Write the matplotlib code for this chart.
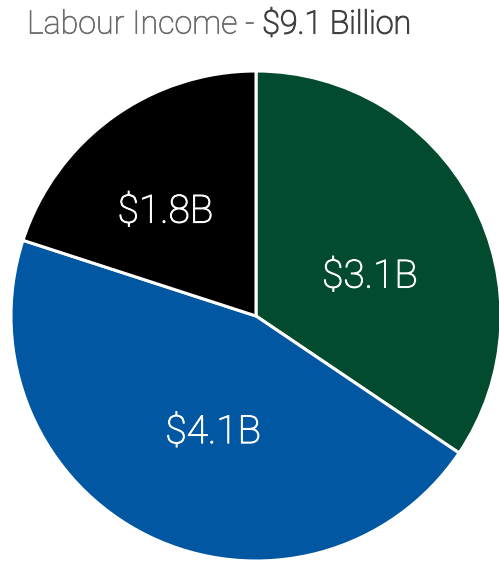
import matplotlib
matplotlib.use("Agg")
import matplotlib.pyplot as plt
import matplotlib.patheffects as pe

# Labour income split (billions of dollars)
segments = ["Direct", "Indirect", "Induced"]
values = [3.1, 4.1, 1.8]
labels = ["$3.1B", "$4.1B", "$1.8B"]
colors = ["#024b2e", "#0157a2", "#000000"]
total = 9.1

# label anchor points inside each wedge (axes data units)
label_pos = [(0.465, 0.16), (-0.175, -0.475), (-0.37, 0.425)]

plt.rcParams["font.family"] = ["Roboto", "DejaVu Sans"]

fig = plt.figure(figsize=(4.99, 5.63), dpi=100)
ax = fig.add_axes([11 / 499, 2 / 563, 490 / 499, 490 / 563])

ax.pie(values, colors=colors, startangle=90, counterclock=False,
       wedgeprops={"edgecolor": "white", "linewidth": 2.2})
ax.set_xlim(-1, 1)
ax.set_ylim(-1, 1)
ax.set_aspect("equal")
ax.axis("off")

# light face, thickened slightly with a stroke of the same colour
thicken = [pe.withStroke(linewidth=0.7, foreground="white")]
for (x, y), txt in zip(label_pos, labels):
    ax.text(x, y, txt, ha="center", va="center", color="white",
            fontsize=28, fontweight="light", path_effects=thicken)

# two-tone title
title_y = 1 - 25 / 563
t1 = fig.text(27 / 499, title_y, "Labour Income - ", ha="left", va="center",
              color="#6b6b6b", fontsize=23.2, fontweight="light",
              path_effects=[pe.withStroke(linewidth=0.5, foreground="#6b6b6b")])
fig.canvas.draw()
bb = t1.get_window_extent()
fig.text(bb.x1 / 499, title_y, f"${total} Billion", ha="left", va="center",
         color="#404040", fontsize=23.2, fontweight="light",
         path_effects=[pe.withStroke(linewidth=0.9, foreground="#404040")])

fig.savefig("out.png", dpi=100)
